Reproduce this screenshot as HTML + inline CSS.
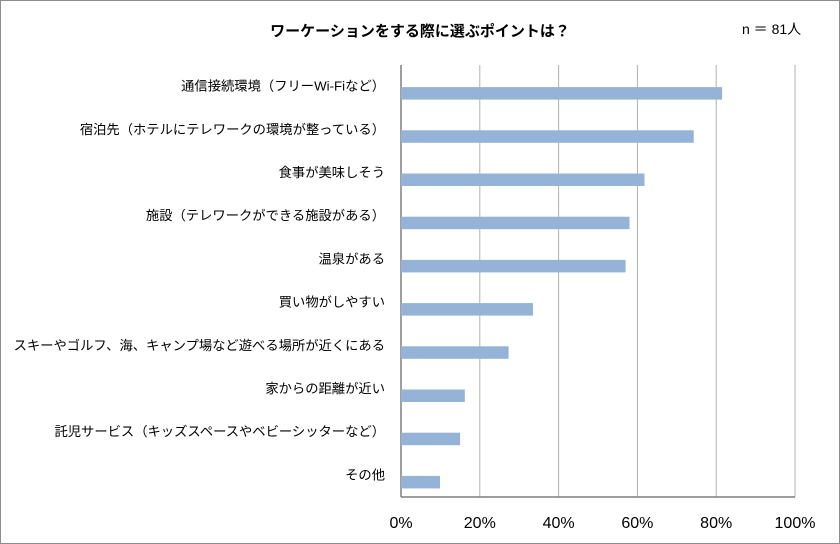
<!DOCTYPE html>
<html><head><meta charset="utf-8"><style>
html,body{margin:0;padding:0;background:#fff;}
svg{display:block;font-family:"Liberation Sans","Noto Sans CJK JP",sans-serif;}
</style></head><body>
<svg id="chart" width="840" height="544">
<rect x="0.5" y="0.5" width="839" height="543" fill="#fff" stroke="#8c8c8c"/>
<text x="420" y="36" text-anchor="middle" font-size="15" font-weight="bold" fill="#000">ワーケーションをする際に選ぶポイントは？</text>
<text x="742" y="34" font-size="14" fill="#000">n ＝ 81人</text>
<g id="grid"></g><g id="bars"></g><g id="labels"></g><g id="ticks"></g>
</svg>
<script>
const categories=["通信接続環境（フリーWi-Fiなど）","宿泊先（ホテルにテレワークの環境が整っている）","食事が美味しそう","施設（テレワークができる施設がある）","温泉がある","買い物がしやすい","スキーやゴルフ、海、キャンプ場など遊べる場所が近くにある","家からの距離が近い","託児サービス（キッズスペースやベビーシッターなど）","その他"];
const values=[81.5,74.3,61.8,58.0,57.0,33.5,27.3,16.2,15.0,9.9];
const tickValues=[0,20,40,60,80,100];
const tickLabels=["0%","20%","40%","60%","80%","100%"];
const NS="http://www.w3.org/2000/svg";
const X0=401,X1=795,Y0=65,Y1=497;
function xs(v){return X0+(X1-X0)*v/100;}
const band=(Y1-Y0)/categories.length;
function yc(i){return Y0+band*(i+0.5);}
function mk(t,a,p){const e=document.createElementNS(NS,t);for(const k in a)e.setAttribute(k,a[k]);p.appendChild(e);return e;}
const grid=document.getElementById('grid'),bars=document.getElementById('bars'),labels=document.getElementById('labels'),ticks=document.getElementById('ticks');
tickValues.forEach((v,i)=>{
 if(i>0){const l=mk('line',{x1:xs(v),x2:xs(v),y1:Y0,y2:Y1,stroke:'#b0b0b0','stroke-width':1},grid);
 
 }
 const t=mk('text',{x:xs(v),y:528,'text-anchor':'middle','font-size':16,fill:'#000'},ticks);
 t.textContent=tickLabels[i];
 
 
});
const ya=mk('line',{x1:X0,x2:X0,y1:Y0,y2:Y1,stroke:'#7f7f7f','stroke-width':1.5},grid);


const xa=mk('line',{x1:X0,x2:X1,y1:Y1,y2:Y1,stroke:'#7f7f7f','stroke-width':1.5},grid);


categories.forEach((c,i)=>{
 const r=mk('rect',{x:X0,y:yc(i)+0.5,width:xs(values[i])-X0,height:12.5,fill:'#95b3d7'},bars);
 
 
 const t=mk('text',{x:385,y:yc(i)+4,'text-anchor':'end','font-size':13.3,fill:'#000'},labels);
 t.textContent=c;
 
 
});
</script>
</body></html>
